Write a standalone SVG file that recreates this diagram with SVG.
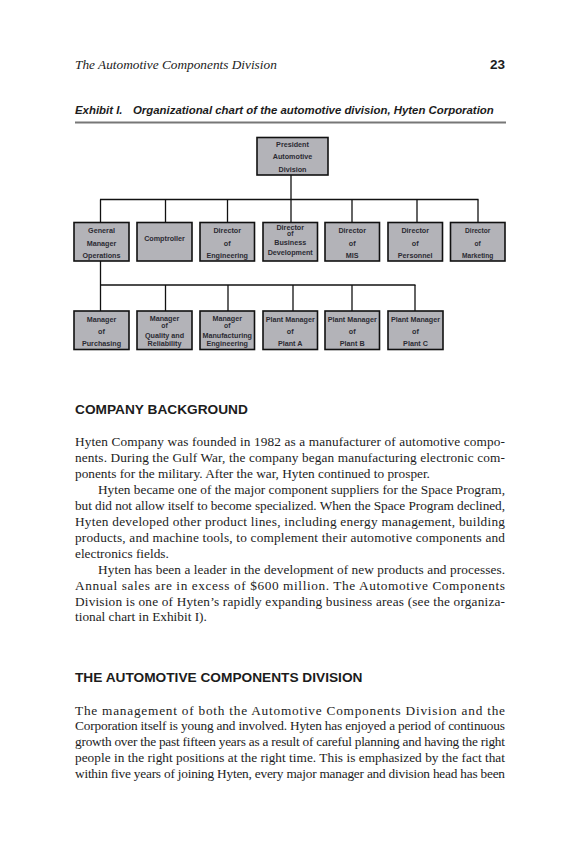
<svg xmlns="http://www.w3.org/2000/svg" width="570" height="858" viewBox="0 0 570 858">
<style>
.box{fill:#b3b3b8;stroke:#111;stroke-width:1.6}
.bt{font-family:"Liberation Sans",Arial,sans-serif;font-weight:bold;font-size:7.2px;fill:#2b2b33;text-anchor:middle}
.bts{font-size:6.6px}
.of{font-size:6.8px}
.conn line{stroke:#111;stroke-width:1.3}
.body{font-family:"Liberation Serif","Times New Roman",serif;font-size:13.3px;fill:#1c1c1c}
.hd{font-family:"Liberation Sans",Arial,sans-serif;font-weight:bold;font-size:13.7px;fill:#1c1c1c}
</style>
<rect width="570" height="858" fill="#fff"/>
<g id="page-header">
<text x="75" y="69" style="font-family:'Liberation Serif','Times New Roman',serif;font-style:italic;font-size:13.3px;fill:#1c1c1c">The Automotive Components Division</text>
<text x="505" y="69" text-anchor="end" style="font-family:'Liberation Sans',Arial,sans-serif;font-weight:bold;font-size:13.5px;fill:#1c1c1c">23</text>
</g>
<g id="exhibit-title" style="font-family:'Liberation Sans',Arial,sans-serif;font-weight:bold;font-style:italic;font-size:11.4px;fill:#1c1c1c">
<text x="75" y="114">Exhibit I.</text>
<text x="133" y="114">Organizational chart of the automotive division, Hyten Corporation</text>
<line x1="75" y1="122.5" x2="506" y2="122.5" stroke="#777" stroke-width="1.8"/>
</g>
<g id="connectors" class="conn">
<line x1="291" y1="175" x2="291" y2="199.5"/>
<line x1="100" y1="199.5" x2="478.5" y2="199.5"/>
<line x1="100.5" y1="199.5" x2="100.5" y2="222.5"/>
<line x1="165.5" y1="199.5" x2="165.5" y2="222.5"/>
<line x1="227.5" y1="199.5" x2="227.5" y2="222.5"/>
<line x1="291" y1="199.5" x2="291" y2="222.5"/>
<line x1="352" y1="199.5" x2="352" y2="222.5"/>
<line x1="417" y1="199.5" x2="417" y2="222.5"/>
<line x1="478" y1="199.5" x2="478" y2="222.5"/>
<line x1="100.5" y1="261" x2="100.5" y2="311"/>
<line x1="100" y1="285" x2="415.5" y2="285"/>
<line x1="165.5" y1="285" x2="165.5" y2="311"/>
<line x1="228" y1="285" x2="228" y2="311"/>
<line x1="293" y1="285" x2="293" y2="311"/>
<line x1="352" y1="285" x2="352" y2="311"/>
<line x1="415" y1="285" x2="415" y2="311"/>
</g>
<g id="president">
<rect class="box" x="257" y="137.5" width="71" height="37.5"/>
<text class="bt" x="292.5" y="147">President</text>
<text class="bt" x="292.5" y="159">Automotive</text>
<text class="bt" x="292.5" y="171.5">Division</text>
</g>
<g id="general-manager">
<rect class="box" x="74" y="222.5" width="55" height="38.5"/>
<text class="bt" x="101.5" y="233">General</text>
<text class="bt" x="101.5" y="245.5">Manager</text>
<text class="bt" x="101.5" y="257.5">Operations</text>
</g>
<g id="comptroller">
<rect class="box" x="137" y="222.5" width="55" height="38.5"/>
<text class="bt" x="164.5" y="240.5">Comptroller</text>
</g>
<g id="dir-engineering">
<rect class="box" x="200" y="222.5" width="54.5" height="38.5"/>
<text class="bt" x="227.2" y="233">Director</text>
<text class="bt" x="227.2" y="245.5">of</text>
<text class="bt" x="227.2" y="257.5">Engineering</text>
</g>
<g id="dir-business-dev">
<rect class="box" x="263" y="222.5" width="54.5" height="38.5"/>
<text class="bt" x="290.2" y="229.5">Director</text>
<text class="bt of" x="290.2" y="236.3">of</text>
<text class="bt" x="290.2" y="245">Business</text>
<text class="bt" x="290.2" y="254.5">Development</text>
</g>
<g id="dir-mis">
<rect class="box" x="325" y="222.5" width="54.5" height="38.5"/>
<text class="bt" x="352.2" y="233">Director</text>
<text class="bt" x="352.2" y="245.5">of</text>
<text class="bt" x="352.2" y="257.5">MIS</text>
</g>
<g id="dir-personnel">
<rect class="box" x="388" y="222.5" width="54.5" height="38.5"/>
<text class="bt" x="415.2" y="233">Director</text>
<text class="bt" x="415.2" y="245.5">of</text>
<text class="bt" x="415.2" y="257.5">Personnel</text>
</g>
<g id="dir-marketing">
<rect class="box" x="450.5" y="222.5" width="54.5" height="38.5"/>
<text class="bt bts" x="477.7" y="233">Director</text>
<text class="bt bts" x="477.7" y="245.5">of</text>
<text class="bt bts" x="477.7" y="257.5">Marketing</text>
</g>
<g id="mgr-purchasing">
<rect class="box" x="74" y="311" width="55" height="38.5"/>
<text class="bt" x="101.5" y="322">Manager</text>
<text class="bt" x="101.5" y="334">of</text>
<text class="bt" x="101.5" y="346">Purchasing</text>
</g>
<g id="mgr-quality">
<rect class="box" x="137" y="311" width="55" height="38.5"/>
<text class="bt" x="164.5" y="321.3">Manager</text>
<text class="bt of" x="164.5" y="328">of</text>
<text class="bt" x="164.5" y="338">Quality and</text>
<text class="bt" x="164.5" y="346">Reliability</text>
</g>
<g id="mgr-mfg-eng">
<rect class="box" x="200" y="311" width="54.5" height="38.5"/>
<text class="bt" x="227.2" y="321.3">Manager</text>
<text class="bt of" x="227.2" y="328">of</text>
<text class="bt" x="227.2" y="338">Manufacturing</text>
<text class="bt" x="227.2" y="346">Engineering</text>
</g>
<g id="plant-a">
<rect class="box" x="263" y="311" width="54.5" height="38.5"/>
<text class="bt" x="290.2" y="322">Plant Manager</text>
<text class="bt" x="290.2" y="334">of</text>
<text class="bt" x="290.2" y="346">Plant A</text>
</g>
<g id="plant-b">
<rect class="box" x="325" y="311" width="54.5" height="38.5"/>
<text class="bt" x="352.2" y="322">Plant Manager</text>
<text class="bt" x="352.2" y="334">of</text>
<text class="bt" x="352.2" y="346">Plant B</text>
</g>
<g id="plant-c">
<rect class="box" x="388" y="311" width="55" height="38.5"/>
<text class="bt" x="415.5" y="322">Plant Manager</text>
<text class="bt" x="415.5" y="334">of</text>
<text class="bt" x="415.5" y="346">Plant C</text>
</g>
<g id="company-background">
<text class="hd" x="75" y="414">COMPANY BACKGROUND</text>
<text class="body" x="75" y="446" textLength="430" lengthAdjust="spacing">Hyten Company was founded in 1982 as a manufacturer of automotive compo-</text>
<text class="body" x="75" y="461.95" textLength="430" lengthAdjust="spacing">nents. During the Gulf War, the company began manufacturing electronic com-</text>
<text class="body" x="75" y="477.9">ponents for the military. After the war, Hyten continued to prosper.</text>
<text class="body" x="98" y="493.85" textLength="407" lengthAdjust="spacing">Hyten became one of the major component suppliers for the Space Program,</text>
<text class="body" x="75" y="509.8" textLength="430" lengthAdjust="spacing">but did not allow itself to become specialized. When the Space Program declined,</text>
<text class="body" x="75" y="525.75" textLength="430" lengthAdjust="spacing">Hyten developed other product lines, including energy management, building</text>
<text class="body" x="75" y="541.7" textLength="430" lengthAdjust="spacing">products, and machine tools, to complement their automotive components and</text>
<text class="body" x="75" y="557.65">electronics fields.</text>
<text class="body" x="98" y="573.6" textLength="407" lengthAdjust="spacing">Hyten has been a leader in the development of new products and processes.</text>
<text class="body" x="75" y="589.55" textLength="430" lengthAdjust="spacing">Annual sales are in excess of $600 million. The Automotive Components</text>
<text class="body" x="75" y="605.5" textLength="430" lengthAdjust="spacing">Division is one of Hyten’s rapidly expanding business areas (see the organiza-</text>
<text class="body" x="75" y="621.45">tional chart in Exhibit I).</text>
</g>
<g id="automotive-division">
<text class="hd" x="75" y="682">THE AUTOMOTIVE COMPONENTS DIVISION</text>
<text class="body" x="75" y="714.5" textLength="430" lengthAdjust="spacing">The management of both the Automotive Components Division and the</text>
<text class="body" x="75" y="730.4" textLength="430" lengthAdjust="spacing">Corporation itself is young and involved. Hyten has enjoyed a period of continuous</text>
<text class="body" x="75" y="746.3" textLength="430" lengthAdjust="spacing">growth over the past fifteen years as a result of careful planning and having the right</text>
<text class="body" x="75" y="762.2" textLength="430" lengthAdjust="spacing">people in the right positions at the right time. This is emphasized by the fact that</text>
<text class="body" x="75" y="778.1" textLength="430" lengthAdjust="spacing">within five years of joining Hyten, every major manager and division head has been</text>
</g>
</svg>
